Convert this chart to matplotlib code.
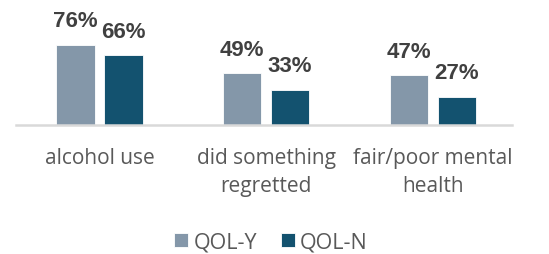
import matplotlib
matplotlib.use("Agg")
import matplotlib.pyplot as plt
import numpy as np

categories = ["alcohol use", "did something\nregretted", "fair/poor mental\nhealth"]
series_names = ["QOL-Y", "QOL-N"]
qol_y = [76, 49, 47]
qol_n = [66, 33, 27]
colors = ["#8497A9", "#13526F"]

fig = plt.figure(figsize=(5.49, 2.55), dpi=100)
ax = fig.add_axes([16 / 549, 1 - 126 / 255, 496 / 549, 126 / 255])

x = np.arange(len(categories))
w = 0.23
off = 0.144
for vals, dx, c, name in [(qol_y, -off, colors[0], series_names[0]),
                          (qol_n, off, colors[1], series_names[1])]:
    bars = ax.bar(x + dx, vals, width=w, color=c, edgecolor="white",
                  linewidth=0.6, label=name, zorder=2)
    for b, v in zip(bars, vals):
        ax.annotate(f"{v}%", (b.get_x() + b.get_width() / 2, v),
                    xytext=(0, 13.5), textcoords="offset points",
                    ha="center", va="baseline", fontsize=16,
                    fontweight="bold", color="#404040",
                    family="Liberation Sans")

ax.set_xlim(-0.5, 2.474)
ax.set_ylim(0, 119.5)
ax.set_yticks([])
ax.set_xticks(x)
ax.set_xticklabels(categories, fontsize=15, color="#595959",
                   linespacing=1.45, family="Open Sans")
ax.tick_params(axis="x", length=0, pad=15.5)
for s in ["top", "right", "left"]:
    ax.spines[s].set_visible(False)
ax.spines["bottom"].set_color("#D9D9D9")
ax.spines["bottom"].set_linewidth(1.8)

fig.legend(loc="center", bbox_to_anchor=(271 / 549, 1 - 243 / 255), ncol=2,
           frameon=False, handlelength=0.65, handleheight=0.65,
           handletextpad=0.25, columnspacing=1.1,
           prop={"family": "Open Sans", "size": 15.5},
           labelcolor="#595959")

fig.savefig("out.png", dpi=100)
